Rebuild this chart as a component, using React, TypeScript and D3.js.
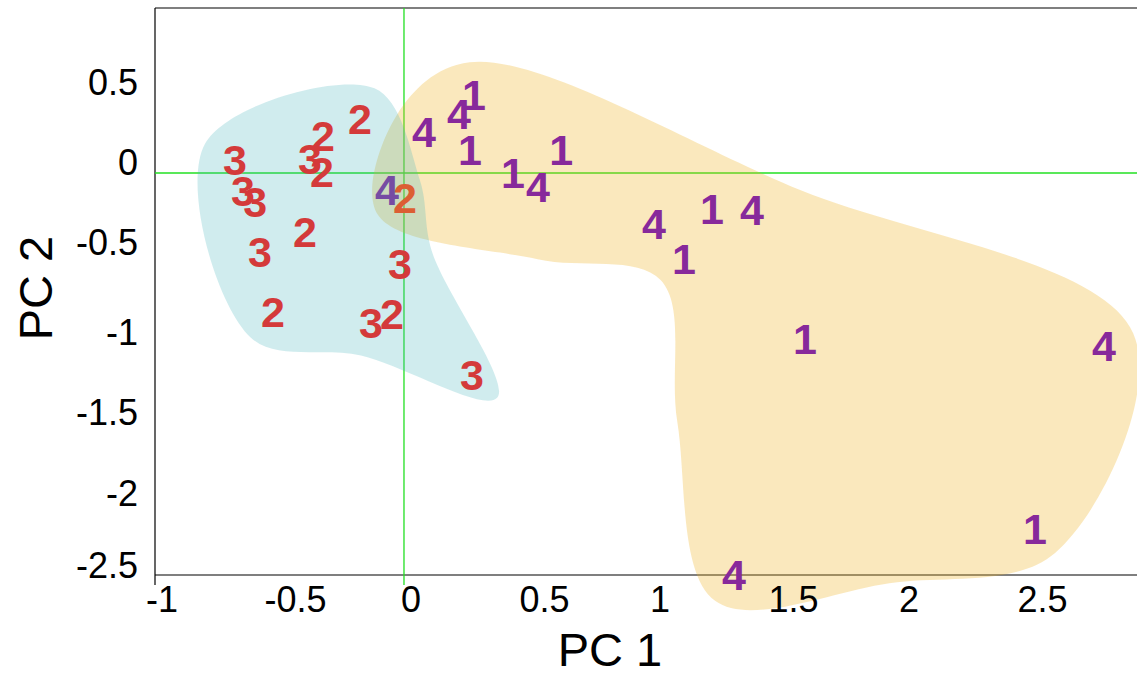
import React, { useEffect, useRef } from "react";
import * as d3 from "d3";

// sample labels (class ids) and their PCA scores
const pointLabels = [
  "3", "3", "3", "3", "2", "2", "3", "2", "2", "2", "2", "3", "3", "2", "3",
  "4", "4", "4", "1", "1", "1", "4", "1", "4", "1", "1", "4", "1", "4", "1", "4",
];
const pc1 = [
  -0.679, -0.647, -0.598, -0.578, -0.526, -0.398, -0.378, -0.325, -0.329, -0.177, 0.004, -0.016, -0.133, -0.048, 0.273,
  -0.068, 0.08, 0.221, 0.281, 0.265, 0.438, 0.538, 0.631, 1.004, 1.124, 1.237, 1.398, 1.61, 2.811, 2.534, 1.325,
];
const pc2 = [
  0.081, -0.112, -0.18, -0.491, -0.864, -0.361, 0.093, 0.23, 0.012, 0.336, -0.155, -0.56, -0.933, -0.871, -1.256,
  -0.1, 0.255, 0.367, 0.491, 0.143, 0.0, -0.087, 0.149, -0.317, -0.529, -0.224, -0.23, -1.032, -1.076, -2.208, -2.5,
];
// cluster each sample was assigned to (A = orange group, B = cyan group)
const clusterOf = [
  "B", "B", "B", "B", "B", "B", "B", "B", "B", "B", "A", "B", "B", "B", "B",
  "B", "A", "A", "A", "A", "A", "A", "A", "A", "A", "A", "A", "A", "A", "A", "A",
];

// outline members of each cluster, in drawing order
const cyanHullIdx = [0, 9, 15, 11, 14, 12, 4];
const orangeHullIdx = [10, 16, 18, 28, 29, 30, 24];

const xTicks = [-1, -0.5, 0, 0.5, 1, 1.5, 2, 2.5];
const yTicks = [0.5, 0, -0.5, -1, -1.5, -2, -2.5];

const W = 1137;
const H = 673;
const FONT = "'Liberation Sans', Arial, sans-serif";

const App = () => {
  const svgRef = useRef<SVGSVGElement>(null);

  useEffect(() => {
    const svg = d3.select(svgRef.current);
    svg.selectAll("*").remove();

    const left = 155, right = 1137, top = 8, bottom = 575;
    const x = d3.scaleLinear().domain([-1, 2.944]).range([left, right]);
    const y = d3.scaleLinear().domain([-2.5, 1.026]).range([bottom, top]);

    // frame
    const frame = svg.append("g").attr("stroke", "#000").attr("stroke-width", 1.2);
    frame.append("line").attr("x1", left).attr("x2", right).attr("y1", top).attr("y2", top);
    frame.append("line").attr("x1", left).attr("x2", left).attr("y1", top).attr("y2", bottom + 10);
    frame.append("line").attr("x1", left).attr("x2", right).attr("y1", bottom).attr("y2", bottom);

    // zero lines
    svg.append("line")
      .attr("x1", left).attr("x2", right).attr("y1", y(0)).attr("y2", y(0))
      .attr("stroke", "#22e022").attr("stroke-width", 1.3);
    svg.append("line")
      .attr("x1", x(0)).attr("x2", x(0)).attr("y1", top).attr("y2", bottom + 10)
      .attr("stroke", "#22e022").attr("stroke-width", 1.3);

    const px = (i: number): [number, number] => [x(pc1[i]), y(pc2[i])];

    // expanded, smoothed outline around the ordered hull points
    const hullPath = (idx: number[], r: number) => {
      const pts = idx.map(px);
      const n = pts.length;
      let area = 0;
      for (let i = 0; i < n; i++) {
        const a = pts[i], b = pts[(i + 1) % n];
        area += a[0] * b[1] - b[0] * a[1];
      }
      const sign = area > 0 ? 1 : -1;
      const normal = (a: number[], b: number[]) => {
        const dx = b[0] - a[0], dy = b[1] - a[1];
        const len = Math.hypot(dx, dy);
        return [(sign * dy) / len, (-sign * dx) / len];
      };
      const out: [number, number][] = [];
      pts.forEach((p, i) => {
        const prev = pts[(i - 1 + n) % n], next = pts[(i + 1) % n];
        const n1 = normal(prev, p), n2 = normal(p, next);
        const sx = n1[0] + n2[0], sy = n1[1] + n2[1];
        const l = Math.hypot(sx, sy) || 1;
        out.push([p[0] + (r * sx) / l, p[1] + (r * sy) / l]);
        // keep long sides from bowing too far
        if (Math.hypot(next[0] - p[0], next[1] - p[1]) > 250) {
          out.push([(p[0] + next[0]) / 2 + r * n2[0], (p[1] + next[1]) / 2 + r * n2[1]]);
        }
      });
      return d3.line().curve(d3.curveCatmullRomClosed.alpha(0.5))(out);
    };

    const purple = "#87299b";
    const red = "#d43a3a";
    const orangeFill = "rgb(238,178,35)";
    const cyanFill = "rgb(67,179,187)";
    const isPurple = (l: string) => l === "1" || l === "4";
    const classOf = (l: string) => (isPurple(l) ? "A" : "B");

    svg.append("path")
      .attr("d", hullPath(orangeHullIdx, 32))
      .attr("fill", orangeFill)
      .attr("fill-opacity", 0.3);
    svg.append("path")
      .attr("d", hullPath(cyanHullIdx, 34))
      .attr("fill", cyanFill)
      .attr("fill-opacity", 0.25);

    // text colour by class; samples sitting in the other cluster take on its tint
    const textColor = (i: number) => {
      const base = isPurple(pointLabels[i]) ? purple : red;
      if (clusterOf[i] === classOf(pointLabels[i])) return base;
      return clusterOf[i] === "A"
        ? d3.interpolateRgb(base, orangeFill)(0.3)
        : d3.interpolateRgb(base, cyanFill)(0.25);
    };

    svg.append("g")
      .selectAll("text")
      .data(d3.range(pointLabels.length))
      .enter()
      .append("text")
      .attr("x", (i) => x(pc1[i]))
      .attr("y", (i) => y(pc2[i]))
      .attr("dy", "0.36em")
      .attr("text-anchor", "middle")
      .attr("font-family", FONT)
      .attr("font-weight", "bold")
      .attr("font-size", 43)
      .attr("fill", textColor)
      .text((i) => pointLabels[i]);

    // tick labels
    svg.append("g")
      .selectAll("text")
      .data(xTicks)
      .enter()
      .append("text")
      .attr("x", (d) => x(d) + (Number.isInteger(d) ? 7 : 16))
      .attr("y", 612)
      .attr("text-anchor", "middle")
      .attr("font-family", FONT)
      .attr("font-size", 36)
      .attr("fill", "#000")
      .text((d) => String(d));

    svg.append("g")
      .selectAll("text")
      .data(yTicks)
      .enter()
      .append("text")
      .attr("x", 138)
      .attr("y", (d) => y(d) + 13 + (d === -2.5 ? -10 : d > -1 ? -11 : -2))
      .attr("text-anchor", "end")
      .attr("font-family", FONT)
      .attr("font-size", 36)
      .attr("fill", "#000")
      .text((d) => String(d));

    // axis titles
    svg.append("text")
      .attr("x", 610).attr("y", 666)
      .attr("text-anchor", "middle")
      .attr("font-family", FONT).attr("font-size", 47)
      .text("PC 1");
    svg.append("text")
      .attr("transform", "translate(52,288) rotate(-90)")
      .attr("text-anchor", "middle")
      .attr("font-family", FONT).attr("font-size", 47)
      .text("PC 2");
  }, []);

  return (
    <svg
      ref={svgRef}
      width={W}
      height={H}
      style={{ position: "absolute", left: 0, top: 0, background: "#fff", display: "block" }}
    ></svg>
  );
};

export default App;
